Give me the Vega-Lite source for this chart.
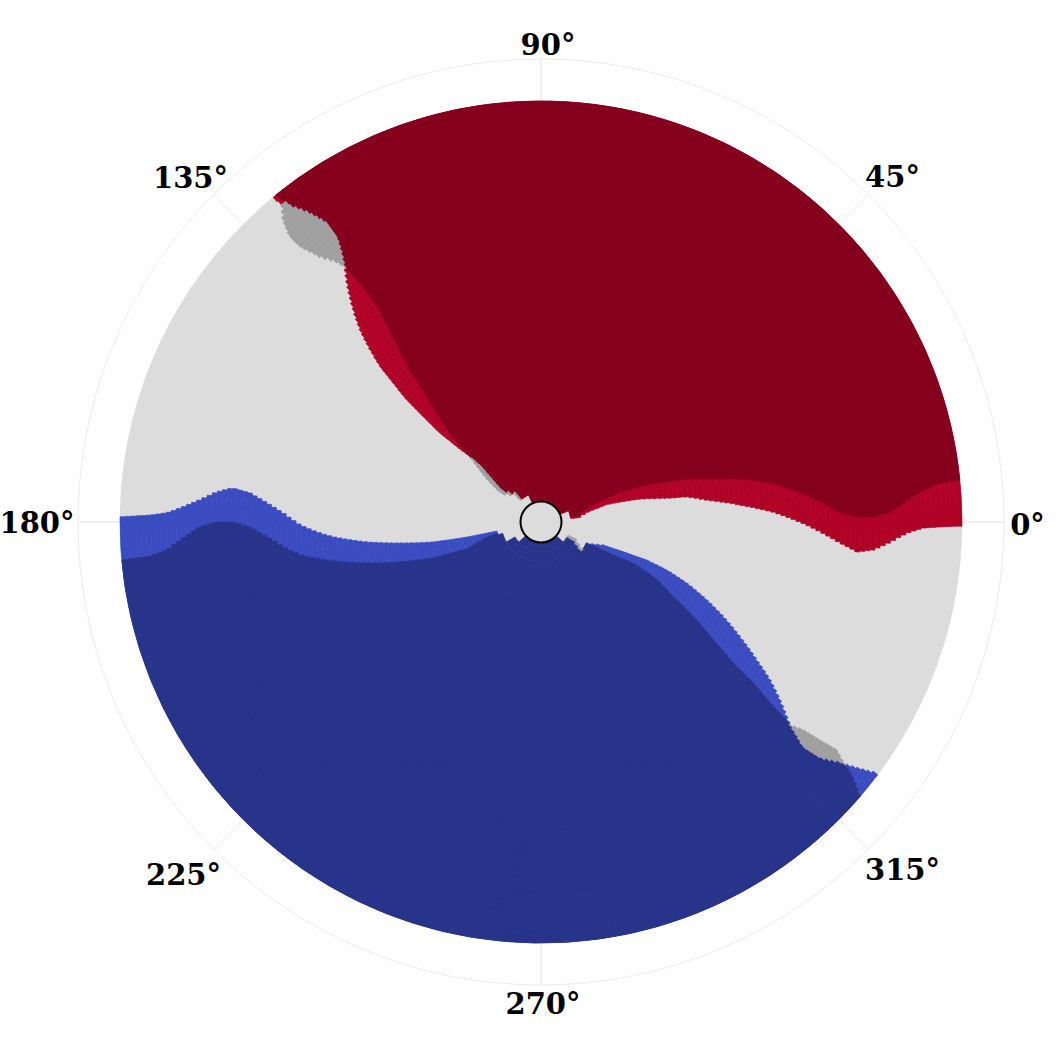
{
  "$schema": "https://vega.github.io/schema/vega-lite/v6.json",
  "width": 1032,
  "height": 1044,
  "autosize": "none",
  "padding": {"left": 25, "top": 0, "right": 0, "bottom": 3},
  "background": "white",
  "config": {"view": {"stroke": null}},
  "datasets": {
    "ticks": [
      {"t": 0, "s": "0°"}, {"t": 45, "s": "45°"}, {"t": 90, "s": "90°"}, {"t": 135, "s": "135°"},
      {"t": 180, "s": "180°"}, {"t": 225, "s": "225°"}, {"t": 270, "s": "270°"}, {"t": 315, "s": "315°"}
    ],
    "regions": [
      {"a":30,"b":40,"s":6.5,"e":131,"c":"BR"},
      {"a":40,"b":45,"s":9.77,"e":136.6,"c":"BR"},
      {"a":45,"b":50,"s":11.9,"e":140.3,"c":"BR"},
      {"a":50,"b":55,"s":12.9,"e":140.4,"c":"BR"},
      {"a":55,"b":60,"s":13.6,"e":139.7,"c":"BR"},
      {"a":60,"b":65,"s":14.35,"e":139.0,"c":"BR"},
      {"a":65,"b":70,"s":14.85,"e":138.4,"c":"BR"},
      {"a":70,"b":75,"s":14.6,"e":137.9,"c":"BR"},
      {"a":75,"b":80,"s":14.4,"e":137.3,"c":"BR"},
      {"a":80,"b":85,"s":14.15,"e":137.0,"c":"BR"},
      {"a":85,"b":90,"s":13.85,"e":137.1,"c":"BR"},
      {"a":90,"b":95,"s":13.6,"e":137.15,"c":"BR"},
      {"a":95,"b":100,"s":13.3,"e":137.45,"c":"BR"},
      {"a":100,"b":105,"s":13.0,"e":137.7,"c":"BR"},
      {"a":105,"b":110,"s":12.55,"e":137.95,"c":"BR"},
      {"a":110,"b":115,"s":12.1,"e":138.2,"c":"BR"},
      {"a":115,"b":120,"s":11.6,"e":138.3,"c":"BR"},
      {"a":120,"b":125,"s":11.2,"e":138.4,"c":"BR"},
      {"a":125,"b":130,"s":10.8,"e":138.55,"c":"BR"},
      {"a":130,"b":135,"s":10.45,"e":138.65,"c":"BR"},
      {"a":135,"b":140,"s":10.2,"e":138.65,"c":"BR"},
      {"a":140,"b":145,"s":10.07,"e":138.55,"c":"BR"},
      {"a":145,"b":150,"s":9.8,"e":138.4,"c":"BR"},
      {"a":150,"b":155,"s":9.25,"e":138.3,"c":"BR"},
      {"a":155,"b":160,"s":8.7,"e":138.2,"c":"BR"},
      {"a":160,"b":165,"s":8.1,"e":138.1,"c":"BR"},
      {"a":165,"b":170,"s":7.55,"e":138.0,"c":"BR"},
      {"a":170,"b":175,"s":7.1,"e":137.9,"c":"BR"},
      {"a":175,"b":180,"s":6.7,"e":137.8,"c":"BR"},
      {"a":180,"b":185,"s":6.3,"e":137.7,"c":"BR"},
      {"a":185,"b":190,"s":5.9,"e":137.48,"c":"BR"},
      {"a":190,"b":195,"s":5.5,"e":137.25,"c":"BR"},
      {"a":195,"b":200,"s":5.05,"e":137.0,"c":"BR"},
      {"a":200,"b":205,"s":4.67,"e":136.8,"c":"BR"},
      {"a":205,"b":210,"s":4.3,"e":136.6,"c":"BR"},
      {"a":210,"b":215,"s":3.93,"e":136.4,"c":"BR"},
      {"a":215,"b":220,"s":3.56,"e":136.25,"c":"BR"},
      {"a":220,"b":225,"s":3.19,"e":136.05,"c":"BR"},
      {"a":225,"b":230,"s":2.82,"e":135.75,"c":"BR"},
      {"a":230,"b":235,"s":2.45,"e":135.45,"c":"BR"},
      {"a":235,"b":240,"s":1.98,"e":135.1,"c":"BR"},
      {"a":240,"b":245,"s":1.52,"e":134.8,"c":"BR"},
      {"a":245,"b":250,"s":1.06,"e":134.45,"c":"BR"},
      {"a":250,"b":255,"s":0.6,"e":134.1,"c":"BR"},
      {"a":255,"b":260,"s":0.13,"e":133.75,"c":"BR"},
      {"a":260,"b":265,"s":-0.33,"e":133.4,"c":"BR"},
      {"a":265,"b":270,"s":-0.8,"e":132.95,"c":"BR"},
      {"a":270,"b":275,"s":-1.3,"e":132.5,"c":"BR"},
      {"a":275,"b":280,"s":-1.8,"e":132.05,"c":"BR"},
      {"a":280,"b":285,"s":-2.3,"e":131.55,"c":"BR"},
      {"a":285,"b":290,"s":-2.8,"e":131.1,"c":"BR"},
      {"a":290,"b":295,"s":-3.28,"e":130.6,"c":"BR"},
      {"a":295,"b":300,"s":-3.78,"e":130.1,"c":"BR"},
      {"a":300,"b":305,"s":-4.22,"e":129.6,"c":"BR"},
      {"a":305,"b":310,"s":-4.6,"e":129.1,"c":"BR"},
      {"a":310,"b":315,"s":-5.0,"e":128.55,"c":"BR"},
      {"a":315,"b":320,"s":-5.4,"e":128.0,"c":"BR"},
      {"a":320,"b":325,"s":-5.2,"e":127.48,"c":"BR"},
      {"a":325,"b":330,"s":-5.0,"e":127.1,"c":"BR"},
      {"a":330,"b":335,"s":-4.83,"e":126.7,"c":"BR"},
      {"a":335,"b":340,"s":-4.4,"e":126.35,"c":"BR"},
      {"a":340,"b":345,"s":-3.95,"e":126.05,"c":"BR"},
      {"a":345,"b":350,"s":-3.5,"e":125.75,"c":"BR"},
      {"a":350,"b":355,"s":-3.0,"e":125.6,"c":"BR"},
      {"a":355,"b":360,"s":-2.5,"e":125.6,"c":"BR"},
      {"a":360,"b":365,"s":-2.05,"e":125.6,"c":"BR"},
      {"a":365,"b":370,"s":-1.63,"e":125.6,"c":"BR"},
      {"a":370,"b":375,"s":-1.38,"e":125.9,"c":"BR"},
      {"a":375,"b":380,"s":-1.13,"e":126.25,"c":"BR"},
      {"a":380,"b":385,"s":-0.9,"e":126.6,"c":"BR"},
      {"a":385,"b":390,"s":-0.84,"e":126.95,"c":"BR"},
      {"a":390,"b":395,"s":-0.78,"e":127.4,"c":"BR"},
      {"a":395,"b":400,"s":-0.72,"e":127.85,"c":"BR"},
      {"a":400,"b":405,"s":-0.68,"e":128.3,"c":"BR"},
      {"a":405,"b":410,"s":-0.64,"e":128.5,"c":"BR"},
      {"a":410,"b":415,"s":-0.6,"e":129.3,"c":"BR"},
      {"a":415,"b":421,"s":-0.57,"e":129.5,"c":"BR"},

      {"a":20,"b":30,"s":22,"e":115,"c":"DR"},
      {"a":30,"b":40,"s":9.3,"e":131,"c":"DR"},
      {"a":40,"b":45,"s":13.7,"e":136.6,"c":"DR"},
      {"a":45,"b":50,"s":16.6,"e":140.3,"c":"DR"},
      {"a":50,"b":55,"s":18.3,"e":140.4,"c":"DR"},
      {"a":55,"b":60,"s":18.9,"e":139.7,"c":"DR"},
      {"a":60,"b":65,"s":19.6,"e":139.0,"c":"DR"},
      {"a":65,"b":70,"s":20.2,"e":138.4,"c":"DR"},
      {"a":70,"b":75,"s":20.4,"e":137.9,"c":"DR"},
      {"a":75,"b":80,"s":20.45,"e":137.3,"c":"DR"},
      {"a":80,"b":85,"s":20.5,"e":137.0,"c":"DR"},
      {"a":85,"b":90,"s":20.55,"e":137.1,"c":"DR"},
      {"a":90,"b":95,"s":20.35,"e":137.15,"c":"DR"},
      {"a":95,"b":100,"s":20.15,"e":137.2,"c":"DR"},
      {"a":100,"b":105,"s":19.95,"e":137.1,"c":"DR"},
      {"a":105,"b":110,"s":19.6,"e":136.9,"c":"DR"},
      {"a":110,"b":115,"s":19.3,"e":136.6,"c":"DR"},
      {"a":115,"b":120,"s":18.95,"e":136.3,"c":"DR"},
      {"a":120,"b":125,"s":18.6,"e":136.0,"c":"DR"},
      {"a":125,"b":130,"s":18.2,"e":135.7,"c":"DR"},
      {"a":130,"b":135,"s":17.75,"e":135.25,"c":"DR"},
      {"a":135,"b":140,"s":17.35,"e":134.85,"c":"DR"},
      {"a":140,"b":145,"s":17.05,"e":134.45,"c":"DR"},
      {"a":145,"b":150,"s":16.75,"e":134.05,"c":"DR"},
      {"a":150,"b":155,"s":16.4,"e":133.65,"c":"DR"},
      {"a":155,"b":160,"s":15.9,"e":133.25,"c":"DR"},
      {"a":160,"b":165,"s":15.4,"e":132.85,"c":"DR"},
      {"a":165,"b":170,"s":14.9,"e":132.45,"c":"DR"},
      {"a":170,"b":175,"s":14.45,"e":132.05,"c":"DR"},
      {"a":175,"b":180,"s":14.05,"e":131.7,"c":"DR"},
      {"a":180,"b":185,"s":13.7,"e":131.5,"c":"DR"},
      {"a":185,"b":190,"s":13.35,"e":131.3,"c":"DR"},
      {"a":190,"b":195,"s":13.0,"e":131.1,"c":"DR"},
      {"a":195,"b":200,"s":12.65,"e":130.9,"c":"DR"},
      {"a":200,"b":205,"s":12.3,"e":130.7,"c":"DR"},
      {"a":205,"b":210,"s":11.85,"e":130.35,"c":"DR"},
      {"a":210,"b":215,"s":11.45,"e":130.0,"c":"DR"},
      {"a":215,"b":220,"s":11.0,"e":129.7,"c":"DR"},
      {"a":220,"b":225,"s":10.6,"e":129.35,"c":"DR"},
      {"a":225,"b":230,"s":10.15,"e":129.1,"c":"DR"},
      {"a":230,"b":235,"s":9.75,"e":128.8,"c":"DR"},
      {"a":235,"b":240,"s":9.25,"e":128.55,"c":"DR"},
      {"a":240,"b":245,"s":8.65,"e":128.3,"c":"DR"},
      {"a":245,"b":250,"s":8.1,"e":128.05,"c":"DR"},
      {"a":250,"b":255,"s":7.5,"e":127.8,"c":"DR"},
      {"a":255,"b":260,"s":6.95,"e":127.6,"c":"DR"},
      {"a":260,"b":265,"s":6.35,"e":127.4,"c":"DR"},
      {"a":265,"b":270,"s":5.8,"e":127.2,"c":"DR"},
      {"a":270,"b":275,"s":5.15,"e":127.17,"c":"DR"},
      {"a":275,"b":280,"s":4.55,"e":127.14,"c":"DR"},
      {"a":280,"b":285,"s":3.95,"e":127.11,"c":"DR"},
      {"a":285,"b":290,"s":3.35,"e":127.09,"c":"DR"},
      {"a":290,"b":295,"s":2.7,"e":127.06,"c":"DR"},
      {"a":295,"b":300,"s":2.1,"e":127.1,"c":"DR"},
      {"a":300,"b":305,"s":1.7,"e":127.2,"c":"DR"},
      {"a":305,"b":310,"s":1.4,"e":127.3,"c":"DR"},
      {"a":310,"b":315,"s":1.1,"e":127.38,"c":"DR"},
      {"a":315,"b":320,"s":0.9,"e":127.47,"c":"DR"},
      {"a":320,"b":325,"s":0.88,"e":127.48,"c":"DR"},
      {"a":325,"b":330,"s":0.87,"e":127.1,"c":"DR"},
      {"a":330,"b":335,"s":0.88,"e":126.7,"c":"DR"},
      {"a":335,"b":340,"s":1.1,"e":126.35,"c":"DR"},
      {"a":340,"b":345,"s":1.35,"e":126.05,"c":"DR"},
      {"a":345,"b":350,"s":1.57,"e":125.75,"c":"DR"},
      {"a":350,"b":355,"s":2.0,"e":125.6,"c":"DR"},
      {"a":355,"b":360,"s":2.5,"e":125.6,"c":"DR"},
      {"a":360,"b":365,"s":3.0,"e":125.6,"c":"DR"},
      {"a":365,"b":370,"s":3.5,"e":125.6,"c":"DR"},
      {"a":370,"b":375,"s":3.9,"e":125.9,"c":"DR"},
      {"a":375,"b":380,"s":4.3,"e":126.25,"c":"DR"},
      {"a":380,"b":385,"s":4.75,"e":126.6,"c":"DR"},
      {"a":385,"b":390,"s":4.98,"e":126.95,"c":"DR"},
      {"a":390,"b":395,"s":5.2,"e":127.4,"c":"DR"},
      {"a":395,"b":400,"s":5.43,"e":127.85,"c":"DR"},
      {"a":400,"b":405,"s":5.59,"e":128.3,"c":"DR"},
      {"a":405,"b":410,"s":5.63,"e":128.5,"c":"DR"},
      {"a":410,"b":415,"s":5.66,"e":128.7,"c":"DR"},
      {"a":415,"b":421,"s":5.7,"e":129.0,"c":"DR"},

      {"a":45,"b":50,"s":191.6,"e":324.5,"c":"BB"},
      {"a":50,"b":55,"s":191.57,"e":335.6,"c":"BB"},
      {"a":55,"b":60,"s":191.56,"e":337.1,"c":"BB"},
      {"a":60,"b":65,"s":191.54,"e":338.55,"c":"BB"},
      {"a":65,"b":70,"s":191.53,"e":339.72,"c":"BB"},
      {"a":70,"b":75,"s":191.51,"e":339.83,"c":"BB"},
      {"a":75,"b":80,"s":191.44,"e":339.94,"c":"BB"},
      {"a":80,"b":85,"s":191.3,"e":340.04,"c":"BB"},
      {"a":85,"b":90,"s":191.15,"e":340.15,"c":"BB"},
      {"a":90,"b":95,"s":191.0,"e":340.16,"c":"BB"},
      {"a":95,"b":100,"s":190.86,"e":340.17,"c":"BB"},
      {"a":100,"b":105,"s":190.71,"e":340.18,"c":"BB"},
      {"a":105,"b":110,"s":190.57,"e":340.19,"c":"BB"},
      {"a":110,"b":115,"s":190.34,"e":340.2,"c":"BB"},
      {"a":115,"b":120,"s":190.03,"e":339.94,"c":"BB"},
      {"a":120,"b":125,"s":189.73,"e":339.7,"c":"BB"},
      {"a":125,"b":130,"s":189.42,"e":339.45,"c":"BB"},
      {"a":130,"b":135,"s":189.12,"e":339.2,"c":"BB"},
      {"a":135,"b":140,"s":188.81,"e":338.87,"c":"BB"},
      {"a":140,"b":145,"s":188.5,"e":338.47,"c":"BB"},
      {"a":145,"b":150,"s":188.21,"e":338.06,"c":"BB"},
      {"a":150,"b":155,"s":187.92,"e":337.66,"c":"BB"},
      {"a":155,"b":160,"s":187.63,"e":337.25,"c":"BB"},
      {"a":160,"b":165,"s":187.34,"e":336.78,"c":"BB"},
      {"a":165,"b":170,"s":187.04,"e":336.3,"c":"BB"},
      {"a":170,"b":175,"s":186.75,"e":335.82,"c":"BB"},
      {"a":175,"b":180,"s":186.42,"e":335.34,"c":"BB"},
      {"a":180,"b":185,"s":186.05,"e":334.86,"c":"BB"},
      {"a":185,"b":190,"s":185.67,"e":334.36,"c":"BB"},
      {"a":190,"b":195,"s":185.3,"e":333.86,"c":"BB"},
      {"a":195,"b":200,"s":184.92,"e":333.35,"c":"BB"},
      {"a":200,"b":205,"s":184.55,"e":332.85,"c":"BB"},
      {"a":205,"b":210,"s":184.17,"e":332.33,"c":"BB"},
      {"a":210,"b":215,"s":183.72,"e":331.8,"c":"BB"},
      {"a":215,"b":220,"s":183.24,"e":331.28,"c":"BB"},
      {"a":220,"b":225,"s":182.76,"e":330.76,"c":"BB"},
      {"a":225,"b":230,"s":182.23,"e":330.23,"c":"BB"},
      {"a":230,"b":235,"s":181.67,"e":329.72,"c":"BB"},
      {"a":235,"b":240,"s":181.1,"e":329.23,"c":"BB"},
      {"a":240,"b":245,"s":180.46,"e":328.74,"c":"BB"},
      {"a":245,"b":250,"s":179.68,"e":328.25,"c":"BB"},
      {"a":250,"b":255,"s":178.9,"e":327.75,"c":"BB"},
      {"a":255,"b":260,"s":178.11,"e":327.26,"c":"BB"},
      {"a":260,"b":265,"s":177.48,"e":326.8,"c":"BB"},
      {"a":265,"b":270,"s":176.87,"e":326.35,"c":"BB"},
      {"a":270,"b":275,"s":176.27,"e":325.9,"c":"BB"},
      {"a":275,"b":280,"s":175.73,"e":325.45,"c":"BB"},
      {"a":280,"b":285,"s":175.25,"e":324.94,"c":"BB"},
      {"a":285,"b":290,"s":174.77,"e":324.41,"c":"BB"},
      {"a":290,"b":295,"s":174.3,"e":323.88,"c":"BB"},
      {"a":295,"b":300,"s":174.13,"e":323.35,"c":"BB"},
      {"a":300,"b":305,"s":173.95,"e":322.8,"c":"BB"},
      {"a":305,"b":310,"s":173.78,"e":322.25,"c":"BB"},
      {"a":310,"b":315,"s":173.87,"e":321.7,"c":"BB"},
      {"a":315,"b":320,"s":174.19,"e":321.15,"c":"BB"},
      {"a":320,"b":325,"s":174.51,"e":320.73,"c":"BB"},
      {"a":325,"b":330,"s":174.9,"e":320.45,"c":"BB"},
      {"a":330,"b":335,"s":175.4,"e":320.14,"c":"BB"},
      {"a":335,"b":340,"s":175.89,"e":319.84,"c":"BB"},
      {"a":340,"b":345,"s":176.36,"e":319.53,"c":"BB"},
      {"a":345,"b":350,"s":176.76,"e":319.4,"c":"BB"},
      {"a":350,"b":355,"s":177.15,"e":319.51,"c":"BB"},
      {"a":355,"b":360,"s":177.54,"e":319.62,"c":"BB"},
      {"a":360,"b":365,"s":177.88,"e":319.73,"c":"BB"},
      {"a":365,"b":370,"s":178.2,"e":319.97,"c":"BB"},
      {"a":370,"b":375,"s":178.5,"e":320.37,"c":"BB"},
      {"a":375,"b":380,"s":178.68,"e":320.77,"c":"BB"},
      {"a":380,"b":385,"s":178.8,"e":321.18,"c":"BB"},
      {"a":385,"b":390,"s":178.92,"e":321.36,"c":"BB"},
      {"a":390,"b":395,"s":179.01,"e":321.65,"c":"BB"},
      {"a":395,"b":400,"s":179.07,"e":321.94,"c":"BB"},
      {"a":400,"b":405,"s":179.12,"e":322.23,"c":"BB"},
      {"a":405,"b":410,"s":179.17,"e":322.52,"c":"BB"},
      {"a":410,"b":415,"s":179.22,"e":322.8,"c":"BB"},
      {"a":415,"b":421,"s":179.28,"e":323.12,"c":"BB"},

      {"a":20,"b":30,"s":222,"e":318,"c":"DB"},
      {"a":30,"b":40,"s":209.8,"e":330,"c":"DB"},
      {"a":40,"b":45,"s":196.5,"e":327,"c":"DB"},
      {"a":45,"b":50,"s":194.4,"e":324.5,"c":"DB"},
      {"a":50,"b":55,"s":195.3,"e":335.0,"c":"DB"},
      {"a":55,"b":60,"s":196.2,"e":335.3,"c":"DB"},
      {"a":60,"b":65,"s":197.1,"e":335.42,"c":"DB"},
      {"a":65,"b":70,"s":198.05,"e":335.44,"c":"DB"},
      {"a":70,"b":75,"s":198.97,"e":335.47,"c":"DB"},
      {"a":75,"b":80,"s":199.78,"e":335.49,"c":"DB"},
      {"a":80,"b":85,"s":199.59,"e":335.56,"c":"DB"},
      {"a":85,"b":90,"s":199.4,"e":335.65,"c":"DB"},
      {"a":90,"b":95,"s":199.21,"e":335.74,"c":"DB"},
      {"a":95,"b":100,"s":199.02,"e":335.83,"c":"DB"},
      {"a":100,"b":105,"s":198.83,"e":335.79,"c":"DB"},
      {"a":105,"b":110,"s":198.64,"e":335.39,"c":"DB"},
      {"a":110,"b":115,"s":198.45,"e":334.99,"c":"DB"},
      {"a":115,"b":120,"s":198.11,"e":334.59,"c":"DB"},
      {"a":120,"b":125,"s":197.71,"e":334.19,"c":"DB"},
      {"a":125,"b":130,"s":197.32,"e":333.67,"c":"DB"},
      {"a":130,"b":135,"s":196.92,"e":333.03,"c":"DB"},
      {"a":135,"b":140,"s":196.52,"e":332.39,"c":"DB"},
      {"a":140,"b":145,"s":196.13,"e":331.75,"c":"DB"},
      {"a":145,"b":150,"s":195.73,"e":331.11,"c":"DB"},
      {"a":150,"b":155,"s":195.34,"e":330.5,"c":"DB"},
      {"a":155,"b":160,"s":194.96,"e":330.06,"c":"DB"},
      {"a":160,"b":165,"s":194.57,"e":329.61,"c":"DB"},
      {"a":165,"b":170,"s":194.18,"e":329.16,"c":"DB"},
      {"a":170,"b":175,"s":193.79,"e":328.71,"c":"DB"},
      {"a":175,"b":180,"s":193.4,"e":328.26,"c":"DB"},
      {"a":180,"b":185,"s":193.0,"e":327.83,"c":"DB"},
      {"a":185,"b":190,"s":192.59,"e":327.41,"c":"DB"},
      {"a":190,"b":195,"s":192.18,"e":326.98,"c":"DB"},
      {"a":195,"b":200,"s":191.77,"e":326.56,"c":"DB"},
      {"a":200,"b":205,"s":191.36,"e":326.13,"c":"DB"},
      {"a":205,"b":210,"s":190.95,"e":325.71,"c":"DB"},
      {"a":210,"b":215,"s":190.52,"e":325.37,"c":"DB"},
      {"a":215,"b":220,"s":190.08,"e":325.05,"c":"DB"},
      {"a":220,"b":225,"s":189.63,"e":324.73,"c":"DB"},
      {"a":225,"b":230,"s":189.19,"e":324.41,"c":"DB"},
      {"a":230,"b":235,"s":188.75,"e":324.09,"c":"DB"},
      {"a":235,"b":240,"s":188.3,"e":323.77,"c":"DB"},
      {"a":240,"b":245,"s":187.86,"e":323.57,"c":"DB"},
      {"a":245,"b":250,"s":187.18,"e":323.41,"c":"DB"},
      {"a":250,"b":255,"s":186.46,"e":323.25,"c":"DB"},
      {"a":255,"b":260,"s":185.74,"e":323.09,"c":"DB"},
      {"a":260,"b":265,"s":184.98,"e":322.93,"c":"DB"},
      {"a":265,"b":270,"s":184.19,"e":322.76,"c":"DB"},
      {"a":270,"b":275,"s":183.4,"e":322.55,"c":"DB"},
      {"a":275,"b":280,"s":182.71,"e":322.33,"c":"DB"},
      {"a":280,"b":285,"s":182.08,"e":322.12,"c":"DB"},
      {"a":285,"b":290,"s":181.44,"e":321.9,"c":"DB"},
      {"a":290,"b":295,"s":180.91,"e":321.69,"c":"DB"},
      {"a":295,"b":300,"s":180.62,"e":321.49,"c":"DB"},
      {"a":300,"b":305,"s":180.32,"e":321.38,"c":"DB"},
      {"a":305,"b":310,"s":180.03,"e":321.27,"c":"DB"},
      {"a":310,"b":315,"s":180.0,"e":321.17,"c":"DB"},
      {"a":315,"b":320,"s":180.0,"e":321.0,"c":"DB"},
      {"a":320,"b":325,"s":180.0,"e":320.73,"c":"DB"},
      {"a":325,"b":330,"s":180.16,"e":320.45,"c":"DB"},
      {"a":330,"b":335,"s":180.4,"e":320.14,"c":"DB"},
      {"a":335,"b":340,"s":180.64,"e":319.84,"c":"DB"},
      {"a":340,"b":345,"s":180.96,"e":319.53,"c":"DB"},
      {"a":345,"b":350,"s":181.47,"e":319.4,"c":"DB"},
      {"a":350,"b":355,"s":181.99,"e":319.51,"c":"DB"},
      {"a":355,"b":360,"s":182.51,"e":319.62,"c":"DB"},
      {"a":360,"b":365,"s":183.02,"e":319.73,"c":"DB"},
      {"a":365,"b":370,"s":183.53,"e":319.97,"c":"DB"},
      {"a":370,"b":375,"s":184.04,"e":320.37,"c":"DB"},
      {"a":375,"b":380,"s":184.4,"e":320.77,"c":"DB"},
      {"a":380,"b":385,"s":184.6,"e":321.18,"c":"DB"},
      {"a":385,"b":390,"s":184.8,"e":321.36,"c":"DB"},
      {"a":390,"b":395,"s":185.0,"e":321.23,"c":"DB"},
      {"a":395,"b":400,"s":185.03,"e":320.98,"c":"DB"},
      {"a":400,"b":405,"s":185.07,"e":320.72,"c":"DB"},
      {"a":405,"b":410,"s":185.1,"e":320.33,"c":"DB"},
      {"a":410,"b":415,"s":185.14,"e":319.92,"c":"DB"},
      {"a":415,"b":421,"s":185.18,"e":319.47,"c":"DB"},

      {"a":30,"b":40,"s":131,"e":134,"c":"MG"},
      {"a":30,"b":40,"s":330,"e":334,"c":"MG"},
      {"a":40,"b":45,"s":136.6,"e":139.7,"c":"MG"},
      {"a":40,"b":45,"s":327,"e":330,"c":"MG"},
      {"a":45,"b":50,"s":140.3,"e":143.8,"c":"MG"},
      {"a":45,"b":50,"s":324.5,"e":327,"c":"MG"},
      {"a":50,"b":55,"s":140.4,"e":144.0,"c":"MG"},
      {"a":55,"b":60,"s":139.7,"e":143.3,"c":"MG"},
      {"a":60,"b":65,"s":139.0,"e":142.6,"c":"MG"},
      {"a":65,"b":70,"s":138.4,"e":141.9,"c":"MG"},
      {"a":70,"b":75,"s":137.9,"e":141.0,"c":"MG"},
      {"a":75,"b":80,"s":137.3,"e":140.2,"c":"MG"},
      {"a":80,"b":85,"s":137.0,"e":139.4,"c":"MG"},
      {"a":85,"b":90,"s":137.1,"e":138.7,"c":"MG"},
      {"a":90,"b":95,"s":137.15,"e":138.0,"c":"MG"},
      {"a":320,"b":325,"s":127.48,"e":127.65,"c":"MG"},
      {"a":325,"b":330,"s":127.1,"e":127.95,"c":"MG"},
      {"a":330,"b":335,"s":126.7,"e":128.35,"c":"MG"},
      {"a":335,"b":340,"s":126.35,"e":128.9,"c":"MG"},
      {"a":340,"b":345,"s":126.05,"e":129.5,"c":"MG"},
      {"a":345,"b":350,"s":125.75,"e":130.0,"c":"MG"},
      {"a":350,"b":355,"s":125.6,"e":130.3,"c":"MG"},
      {"a":355,"b":360,"s":125.6,"e":130.65,"c":"MG"},
      {"a":360,"b":365,"s":125.6,"e":131.0,"c":"MG"},
      {"a":365,"b":370,"s":125.6,"e":131.23,"c":"MG"},
      {"a":370,"b":375,"s":125.9,"e":131.3,"c":"MG"},
      {"a":375,"b":380,"s":126.25,"e":131.37,"c":"MG"},
      {"a":380,"b":385,"s":126.6,"e":131.26,"c":"MG"},
      {"a":385,"b":390,"s":126.95,"e":131.0,"c":"MG"},
      {"a":390,"b":395,"s":127.4,"e":130.75,"c":"MG"},
      {"a":395,"b":400,"s":127.85,"e":130.47,"c":"MG"},
      {"a":400,"b":405,"s":128.3,"e":129.95,"c":"MG"},
      {"a":405,"b":410,"s":128.5,"e":129.45,"c":"MG"},
      {"a":320,"b":325,"s":320.73,"e":320.87,"c":"MG"},
      {"a":325,"b":330,"s":320.45,"e":321.18,"c":"MG"},
      {"a":330,"b":335,"s":320.14,"e":321.48,"c":"MG"},
      {"a":335,"b":340,"s":319.84,"e":321.67,"c":"MG"},
      {"a":340,"b":345,"s":319.53,"e":321.77,"c":"MG"},
      {"a":345,"b":350,"s":319.4,"e":321.87,"c":"MG"},
      {"a":350,"b":355,"s":319.51,"e":321.97,"c":"MG"},
      {"a":355,"b":360,"s":319.62,"e":322.07,"c":"MG"},
      {"a":360,"b":365,"s":319.73,"e":322.17,"c":"MG"},
      {"a":365,"b":370,"s":319.97,"e":322.27,"c":"MG"},
      {"a":370,"b":375,"s":320.37,"e":322.38,"c":"MG"},
      {"a":375,"b":380,"s":320.77,"e":322.1,"c":"MG"},
      {"a":380,"b":385,"s":321.18,"e":321.74,"c":"MG"},
      {"a":385,"b":390,"s":321.36,"e":321.5,"c":"MG"}
    ]
  },
  "layer": [
    {
      "data": {"values": [{}]},
      "mark": {"type": "arc", "filled": false, "stroke": "#ebebeb", "strokeWidth": 1},
      "encoding": {
        "theta": {"datum": 0, "type": "quantitative", "stack": null, "scale": {"type": "linear", "domain": [0, 360], "range": [1.5707963267948966, -4.71238898038469], "nice": false, "zero": false}},
        "theta2": {"datum": 360},
        "radius": {"datum": 463, "type": "quantitative", "scale": {"type": "linear", "domain": [0, 421], "range": [0, 421], "nice": false, "zero": true}}
      }
    },
    {
      "data": {"name": "ticks"},
      "mark": {"type": "arc", "filled": false, "stroke": "#ebebeb", "strokeWidth": 1},
      "encoding": {
        "theta": {"field": "t", "type": "quantitative", "stack": null, "scale": {"type": "linear", "domain": [0, 360], "range": [1.5707963267948966, -4.71238898038469], "nice": false, "zero": false}},
        "theta2": {"field": "t"},
        "radius": {"datum": 463, "type": "quantitative", "scale": {"type": "linear", "domain": [0, 421], "range": [0, 421], "nice": false, "zero": true}}
      }
    },
    {
      "data": {"values": [{}]},
      "mark": {"type": "arc", "fill": "#dcdcdc", "stroke": "#dcdcdc", "strokeWidth": 0.6},
      "encoding": {
        "theta": {"datum": 0, "type": "quantitative", "stack": null, "scale": {"type": "linear", "domain": [0, 360], "range": [1.5707963267948966, -4.71238898038469], "nice": false, "zero": false}},
        "theta2": {"datum": 360},
        "radius": {"datum": 421, "type": "quantitative", "scale": {"type": "linear", "domain": [0, 421], "range": [0, 421], "nice": false, "zero": true}}
      }
    },
    {
      "data": {"name": "regions"},
      "encoding": {
        "theta": {"field": "s", "type": "quantitative", "stack": null, "scale": {"type": "linear", "domain": [0, 360], "range": [1.5707963267948966, -4.71238898038469], "nice": false, "zero": false}},
        "theta2": {"field": "e"},
        "radius": {"field": "b", "type": "quantitative", "scale": {"type": "linear", "domain": [0, 421], "range": [0, 421], "nice": false, "zero": true}},
        "radius2": {"field": "a"},
        "color": {"field": "c", "type": "nominal", "legend": null, "scale": {"domain": ["DR", "BR", "MG", "BB", "DB"], "range": ["#85001d", "#b00226", "#a0a0a0", "#3b4cc0", "#28348a"]}},
        "stroke": {"field": "c", "type": "nominal", "legend": null, "scale": {"domain": ["DR", "BR", "MG", "BB", "DB"], "range": ["#85001d", "#b00226", "#a0a0a0", "#3b4cc0", "#28348a"]}}
      },
      "layer": [
        {"transform": [{"filter": "datum.c === 'BR'"}], "mark": {"type": "arc", "strokeWidth": 0.7}},
        {"transform": [{"filter": "datum.c === 'DR'"}], "mark": {"type": "arc", "strokeWidth": 0.7}},
        {"transform": [{"filter": "datum.c === 'BB'"}], "mark": {"type": "arc", "strokeWidth": 0.7}},
        {"transform": [{"filter": "datum.c === 'DB'"}], "mark": {"type": "arc", "strokeWidth": 0.7}},
        {"transform": [{"filter": "datum.c === 'MG'"}], "mark": {"type": "arc", "strokeWidth": 0.7}}
      ]
    },
    {
      "data": {"values": [{}]},
      "mark": {"type": "arc", "fill": "#dcdcdc", "stroke": "black", "strokeWidth": 2},
      "encoding": {
        "theta": {"datum": 0, "type": "quantitative", "stack": null, "scale": {"type": "linear", "domain": [0, 360], "range": [1.5707963267948966, -4.71238898038469], "nice": false, "zero": false}},
        "theta2": {"datum": 360},
        "radius": {"datum": 20.5, "type": "quantitative", "scale": {"type": "linear", "domain": [0, 421], "range": [0, 421], "nice": false, "zero": true}}
      }
    },
    {
      "data": {"name": "ticks"},
      "encoding": {
        "theta": {"field": "t", "type": "quantitative", "stack": null, "scale": {"type": "linear", "domain": [0, 360], "range": [1.5707963267948966, -4.71238898038469], "nice": false, "zero": false}},
        "radius": {"datum": 490, "type": "quantitative", "scale": {"type": "linear", "domain": [0, 421], "range": [0, 421], "nice": false, "zero": true}},
        "text": {"field": "s", "type": "nominal"}
      },
      "layer": [
        {"transform": [{"filter": "datum.t === 0"}], "mark": {"type": "text", "font": "DejaVu Serif", "fontWeight": "bold", "fontSize": 29, "color": "black", "align": "center", "baseline": "middle", "dx": -3.5, "dy": 4}},
        {"transform": [{"filter": "datum.t === 45"}], "mark": {"type": "text", "font": "DejaVu Serif", "fontWeight": "bold", "fontSize": 29, "color": "black", "align": "center", "baseline": "middle", "dx": 5, "dy": 2.4}},
        {"transform": [{"filter": "datum.t === 90"}], "mark": {"type": "text", "font": "DejaVu Serif", "fontWeight": "bold", "fontSize": 29, "color": "black", "align": "center", "baseline": "middle", "dx": 7, "dy": 14}},
        {"transform": [{"filter": "datum.t === 135"}], "mark": {"type": "text", "font": "DejaVu Serif", "fontWeight": "bold", "fontSize": 29, "color": "black", "align": "center", "baseline": "middle", "dx": -4, "dy": 3.4}},
        {"transform": [{"filter": "datum.t === 180"}], "mark": {"type": "text", "font": "DejaVu Serif", "fontWeight": "bold", "fontSize": 29, "color": "black", "align": "center", "baseline": "middle", "dx": -14, "dy": 2.4}},
        {"transform": [{"filter": "datum.t === 225"}], "mark": {"type": "text", "font": "DejaVu Serif", "fontWeight": "bold", "fontSize": 29, "color": "black", "align": "center", "baseline": "middle", "dx": -11, "dy": 8}},
        {"transform": [{"filter": "datum.t === 270"}], "mark": {"type": "text", "font": "DejaVu Serif", "fontWeight": "bold", "fontSize": 29, "color": "black", "align": "center", "baseline": "middle", "dx": 2, "dy": -7}},
        {"transform": [{"filter": "datum.t === 315"}], "mark": {"type": "text", "font": "DejaVu Serif", "fontWeight": "bold", "fontSize": 29, "color": "black", "align": "center", "baseline": "middle", "dx": 15, "dy": 3}}
      ]
    }
  ]
}
